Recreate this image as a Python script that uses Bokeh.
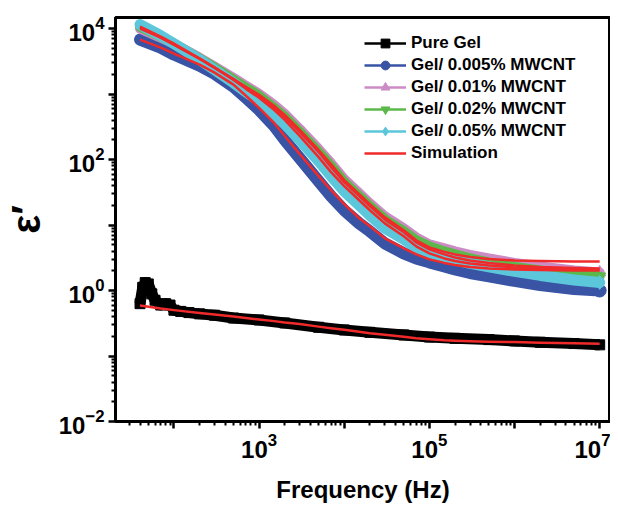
from bokeh.plotting import figure
from bokeh.models import FixedTicker, ColumnDataSource, Legend, LegendItem, Range1d
from bokeh.embed import file_html
from bokeh.resources import INLINE

# ---------------- data ----------------
freq = [40, 70, 100, 200, 300, 500, 700, 1e3, 1.5e3, 2e3, 3e3, 5e3, 7e3, 1e4,
        1.5e4, 2e4, 3e4, 5e4, 7e4, 1e5, 1.5e5, 2e5, 3e5, 5e5, 1e6, 2e6, 5e6, 1e7]

pure_freq = [40, 43, 46, 50, 55, 60, 70, 80, 90, 100, 120, 150, 200, 300, 500,
             1e3, 2e3, 5e3, 1e4, 2e4, 5e4, 1e5, 2e5, 5e5, 1e6, 2e6, 5e6, 1e7]
pure_gel = [0.63, 1.12, 1.32, 1.26, 0.89, 0.71, 0.60, 0.63, 0.60, 0.50, 0.48, 0.46, 0.44, 0.42, 0.38,
            0.355, 0.32, 0.275, 0.25, 0.23, 0.21, 0.195, 0.186, 0.178, 0.17, 0.162, 0.155, 0.148]

gel_0005 = [6780, 5110, 4000, 2710, 2040, 1290, 877, 574, 326, 199, 105, 46.8, 27.6, 16.8,
            10.6, 8.02, 5.25, 3.69, 3.09, 2.69, 2.33, 2.10, 1.85, 1.64, 1.40, 1.21, 1.05, 1.00]
gel_001 = [10000, 7280, 5890, 3590, 2620, 1770, 1340, 1010, 684, 498, 293, 145, 88.3, 50.2,
           30.7, 21.5, 13.6, 8.91, 6.49, 5.07, 4.40, 3.96, 3.50, 3.09, 2.64, 2.33, 2.03, 1.89]
gel_002 = [10700, 7540, 5890, 3470, 2530, 1650, 1250, 940, 615, 448, 264, 130, 79.4, 45.2,
           27.6, 19.4, 12.2, 8.02, 5.84, 4.72, 3.96, 3.56, 3.09, 2.69, 2.29, 2.03, 1.76, 1.64]
gel_005 = [11500, 7810, 5890, 3350, 2350, 1490, 1080, 788, 498, 350, 199, 94.8, 55.9, 32.9,
           20.1, 14.1, 8.91, 6.05, 4.56, 3.82, 3.26, 2.93, 2.59, 2.29, 1.96, 1.70, 1.45, 1.33]

sim_pure = [0.589, 0.530, 0.502, 0.452, 0.429, 0.400, 0.379, 0.360, 0.341, 0.324, 0.307, 0.281, 0.266, 0.252,
            0.235, 0.223, 0.212, 0.197, 0.187, 0.181, 0.174, 0.171, 0.168, 0.165, 0.163, 0.160, 0.157, 0.154]
sim_0005 = [6780, 5110, 4140, 2810, 2120, 1390, 940, 615, 362, 229, 121, 55.9, 34.1, 20.8,
            12.7, 9.57, 6.27, 4.40, 3.56, 2.99, 2.64, 2.46, 2.29, 2.17, 2.10, 2.06, 2.03, 2.03]
sim_001 = [10000, 7280, 5690, 3470, 2530, 1710, 1290, 974, 661, 481, 283, 140, 85.3, 48.5,
           29.6, 20.8, 13.1, 8.31, 5.84, 4.56, 3.89, 3.56, 3.26, 3.04, 2.88, 2.83, 2.78, 2.78]
sim_002 = [10700, 7540, 5890, 3470, 2530, 1650, 1250, 940, 615, 448, 264, 130, 76.7, 45.2,
           27.6, 19.4, 12.2, 7.74, 5.44, 4.25, 3.56, 3.20, 2.88, 2.64, 2.42, 2.29, 2.21, 2.17]
sim_005 = [10400, 7280, 5690, 3470, 2530, 1650, 1200, 877, 574, 403, 229, 109, 64.3, 39.3,
           23.9, 16.8, 10.6, 6.72, 4.72, 3.69, 3.09, 2.83, 2.59, 2.42, 2.25, 2.17, 2.14, 2.10]

series_names = ["Pure Gel", "Gel/ 0.005% MWCNT", "Gel/ 0.01% MWCNT",
                "Gel/ 0.02% MWCNT", "Gel/ 0.05% MWCNT", "Simulation"]

x_major = [1e1, 1e2, 1e3, 1e4, 1e5, 1e6, 1e7]
y_major = [1e-2, 1e-1, 1e0, 1e1, 1e2, 1e3, 1e4]

# ---------------- styles ----------------
BLACK = "#000000"
BLUE = "#3953a5"
PINK = "#cc8bc5"
GREEN = "#5cb84a"
CYAN = "#5cc6da"
RED = "#f02a2a"
FONT = "Liberation Sans"

p = figure(width=610, height=505, x_axis_type="log", y_axis_type="log",
           x_range=Range1d(20.6, 1.34e7), y_range=Range1d(0.01, 14750),
           output_backend="svg", toolbar_location=None,
           min_border_left=112, min_border_top=17, min_border_right=0, min_border_bottom=82)

p.xgrid.visible = False
p.ygrid.visible = False
p.outline_line_color = "black"
p.outline_line_width = 3
p.background_fill_color = "white"
p.border_fill_color = "white"

# data bands
p.line(pure_freq, pure_gel, line_color=BLACK, line_width=11, line_join="round")
p.scatter(pure_freq, pure_gel, marker="square", size=10, fill_color=BLACK, line_color=BLACK)

p.line(freq, gel_0005, line_color=BLUE, line_width=12, line_join="round", line_cap="round")
p.scatter(freq[-1:], gel_0005[-1:], marker="circle", size=13, fill_color=BLUE, line_color=BLUE)

p.line(freq, gel_001, line_color=PINK, line_width=10, line_join="round", line_cap="round")
p.scatter(freq[-1:], gel_001[-1:], marker="triangle", size=12, fill_color=PINK, line_color=PINK)

p.line(freq, gel_002, line_color=GREEN, line_width=10, line_join="round", line_cap="round")
p.scatter(freq[-1:], gel_002[-1:], marker="inverted_triangle", size=12, fill_color=GREEN, line_color=GREEN)

p.line(freq, gel_005, line_color=CYAN, line_width=11, line_join="round", line_cap="round")
p.scatter(freq[-1:], gel_005[-1:], marker="diamond", size=14, fill_color=CYAN, line_color=CYAN)

for sim in (sim_pure, sim_0005, sim_001, sim_002, sim_005):
    p.line(freq, sim, line_color=RED, line_width=2.5, line_join="round")

# legend-only renderers (thin lines + markers)
legend_styles = [(BLACK, "square"), (BLUE, "circle"), (PINK, "triangle"),
                 (GREEN, "inverted_triangle"), (CYAN, "diamond"), (RED, None)]
items = []
for name, (col, mk) in zip(series_names, legend_styles):
    src = ColumnDataSource(data=dict(x=[float("nan")], y=[float("nan")]))
    rs = [p.line("x", "y", source=src, line_color=col, line_width=2.5)]
    if mk is not None:
        rs.append(p.scatter("x", "y", source=src, marker=mk, fill_color=col, line_color=col))
    items.append(LegendItem(label=name, renderers=rs))

legend = Legend(items=items, location=(249, 257), padding=0, spacing=0, margin=0,
                glyph_width=42, glyph_height=22, label_height=22, label_standoff=5,
                label_text_font=FONT, label_text_font_style="bold", label_text_font_size="17px",
                label_text_color="black",
                background_fill_alpha=0, border_line_alpha=0)
p.add_layout(legend, "center")

# axes
p.xaxis.ticker = FixedTicker(ticks=x_major,
                             minor_ticks=[k * 10 ** d for d in range(1, 7) for k in range(2, 10)])
p.yaxis.ticker = FixedTicker(ticks=y_major,
                             minor_ticks=[k * 10.0 ** d for d in range(-2, 4) for k in range(2, 10)])
p.xaxis.major_label_overrides = {1e1: "", 1e2: "", 1e4: "", 1e6: ""}
p.yaxis.major_label_overrides = {1e-1: "", 1e1: "", 1e3: ""}

for ax in (p.xaxis[0], p.yaxis[0]):
    ax.axis_line_width = 3
    ax.major_tick_line_width = 2.5
    ax.minor_tick_line_width = 2
    ax.major_tick_out = 7
    ax.major_tick_in = 0
    ax.minor_tick_out = 4
    ax.minor_tick_in = 0
    ax.major_label_text_font = FONT
    ax.major_label_text_font_style = "bold"
    ax.major_label_text_font_size = "24px"
    ax.major_label_text_color = "black"
    ax.axis_label_text_font = FONT
    ax.axis_label_text_font_style = "bold"
    ax.axis_label_text_color = "black"

p.xaxis.axis_label = "Frequency (Hz)"
p.xaxis.axis_label_text_font_size = "24px"
p.xaxis.axis_label_standoff = 15
p.xaxis.major_label_standoff = 4
p.yaxis.axis_label = "ε′"
p.yaxis.axis_label_text_font_size = "40px"
p.yaxis.axis_label_standoff = 8
p.yaxis.major_label_standoff = 4

open("out.html", "w").write(file_html(p, INLINE))
